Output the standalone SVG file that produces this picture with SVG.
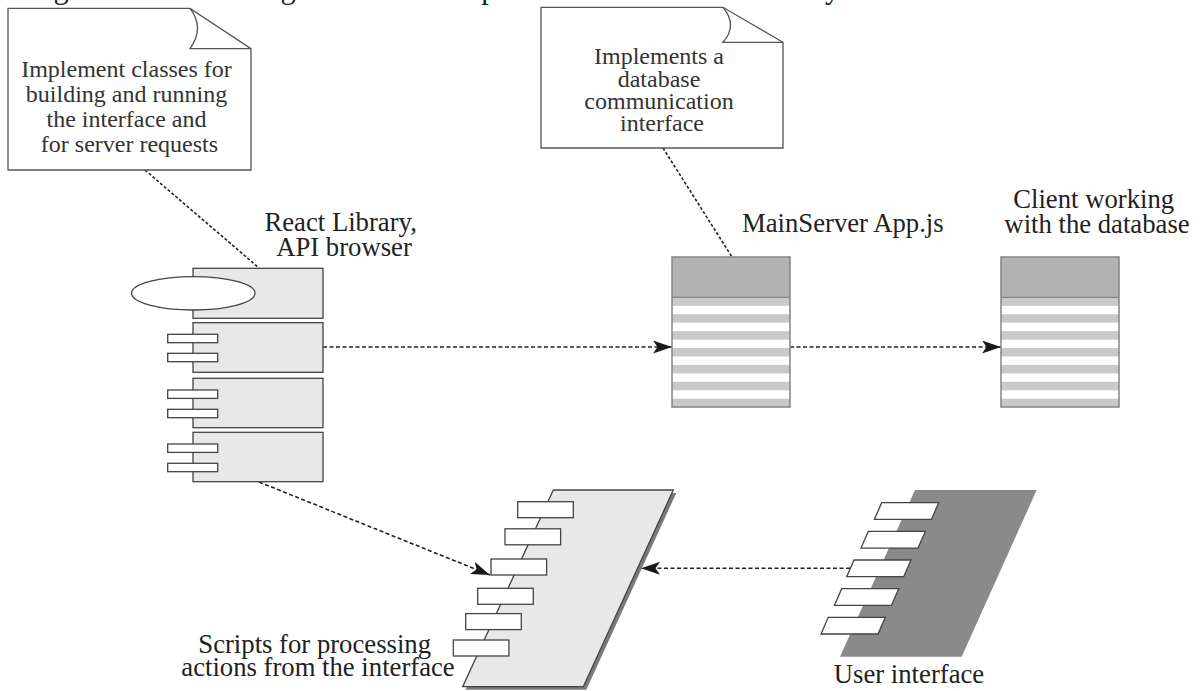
<svg xmlns="http://www.w3.org/2000/svg" xmlns:xlink="http://www.w3.org/1999/xlink" width="1200" height="691" viewBox="0 0 1200 691">
  <style>
    .txt { font-family: "Liberation Serif", "Times New Roman", serif; fill: #222; }
    .lbl { font-size: 26.7px; }
    .note-txt { font-size: 24px; fill: #333; text-anchor: middle; }
    .note { fill: #fff; stroke: #555; stroke-width: 1.3; }
    .curl { fill: none; stroke: #555; stroke-width: 1.3; }
    .leader { fill: none; stroke: #222; stroke-width: 1.6; stroke-dasharray: 3 2; }
    .flow { fill: none; stroke: #222; stroke-width: 1.6; stroke-dasharray: 4 2.5; marker-end: url(#arrow); }
    .part { fill: #e8e8e8; stroke: #444; stroke-width: 1.3; }
    .port { fill: #fff; stroke: #444; stroke-width: 1.3; }
    .db-head { fill: #b3b3b3; }
    .db-band { fill: #c9c9c9; }
    .db-frame { fill: none; stroke: #858585; stroke-width: 1.5; }
  </style>
  <defs>
    <marker id="arrow" viewBox="0 0 19 13" refX="19" refY="6.5" markerWidth="19" markerHeight="13" markerUnits="userSpaceOnUse" orient="auto">
      <path d="M0,0 L19,6.5 L0,13 L4.5,6.5 Z" fill="#1a1a1a"/>
    </marker>
    <path id="slat" d="M0,0 h57 l-7.3,16.7 h-57 z" class="port"/>
    <rect id="tab" width="50" height="8.4" class="port"/>
    <rect id="step" width="55.6" height="16" class="port"/>
    <!-- striped data-store body: header plus alternating bands -->
    <g id="store">
      <rect x="0" y="0" width="118" height="150" fill="#fff"/>
      <rect x="0" y="0" width="118" height="40.3" class="db-head"/>
      <rect x="0" y="40.3" width="118" height="8.5" class="db-band"/>
      <rect x="0" y="57.2" width="118" height="8.5" class="db-band"/>
      <rect x="0" y="74.1" width="118" height="8.5" class="db-band"/>
      <rect x="0" y="91.0" width="118" height="8.5" class="db-band"/>
      <rect x="0" y="107.9" width="118" height="8.5" class="db-band"/>
      <rect x="0" y="124.8" width="118" height="8.5" class="db-band"/>
      <rect x="0" y="141.7" width="118" height="8.3" class="db-band"/>
      <line x1="0" y1="40.3" x2="118" y2="40.3" stroke="#858585" stroke-width="1.3"/>
      <rect x="0" y="0" width="118" height="150" class="db-frame"/>
    </g>
  </defs>

  <!-- caption line running off the top edge -->
  <text class="txt" x="28" y="-2" font-size="30.5" fill="#111">Figure 3 shows a diagram of the components of the information system.</text>

  <!-- connectors -->
  <g id="connectors">
    <line class="leader" x1="145" y1="170" x2="259" y2="268"/>
    <line class="leader" x1="663" y1="148" x2="732" y2="257"/>
    <line class="flow" x1="323" y1="347" x2="672" y2="347"/>
    <line class="flow" x1="790" y1="347" x2="1001" y2="347"/>
    <line class="flow" x1="259" y1="482" x2="490" y2="575"/>
    <line class="flow" x1="850" y1="568.3" x2="641" y2="568.3"/>
  </g>

  <!-- note: interface classes -->
  <g id="note-interface">
    <path class="note" d="M8,8.4 L190,8.4 L251,48.6 L251,170 L8,170 Z"/>
    <path class="curl" d="M190,8.4 Q205,28 190,48.6 L251,48.6"/>
    <text class="txt note-txt">
      <tspan x="129.5" y="76.5">Implement classes for</tspan>
      <tspan x="129.5" y="101.5">building and running</tspan>
      <tspan x="129.5" y="126.5">the interface and</tspan>
      <tspan x="129.5" y="151.5">for server requests</tspan>
    </text>
  </g>

  <!-- note: database interface -->
  <g id="note-database">
    <path class="note" d="M541,7.3 L723,7.3 L783,42.3 L783,148 L541,148 Z"/>
    <path class="curl" d="M723,7.3 Q738,25 723,42.3 L783,42.3"/>
    <text class="txt note-txt">
      <tspan x="662" y="64">Implements a</tspan>
      <tspan x="662" y="86.5">database</tspan>
      <tspan x="662" y="109">communication</tspan>
      <tspan x="662" y="131">interface</tspan>
    </text>
  </g>

  <!-- React library component -->
  <g id="react-library">
    <rect class="part" x="193" y="268.3" width="130" height="50"/>
    <ellipse class="port" cx="193.3" cy="293.3" rx="61.7" ry="16.7"/>
    <rect class="part" x="193" y="322.7" width="130" height="49.6"/>
    <use href="#tab" x="167.7" y="334.3"/>
    <use href="#tab" x="167.7" y="353.3"/>
    <rect class="part" x="193" y="378.3" width="130" height="49.4"/>
    <use href="#tab" x="167.7" y="390"/>
    <use href="#tab" x="167.7" y="409.3"/>
    <rect class="part" x="193" y="432.3" width="130" height="49.4"/>
    <use href="#tab" x="167.7" y="444"/>
    <use href="#tab" x="167.7" y="463.3"/>
    <text class="txt lbl" text-anchor="middle">
      <tspan x="344" y="231">React Library,</tspan>
      <tspan x="344" y="256">API browser</tspan>
    </text>
  </g>

  <!-- main server -->
  <g id="main-server">
    <use href="#store" x="672" y="257"/>
    <text class="txt lbl" x="742" y="232">MainServer App.js</text>
  </g>

  <!-- database client -->
  <g id="db-client">
    <use href="#store" x="1001" y="257"/>
    <text class="txt lbl" text-anchor="middle">
      <tspan x="1097" y="208">Client working</tspan>
      <tspan x="1097" y="233">with the database</tspan>
    </text>
  </g>

  <!-- action scripts -->
  <g id="scripts">
    <polygon points="556.3,493 676.3,493 586.3,689.7 465.7,689.7" fill="#7a7a7a"/>
    <polygon points="553.3,490 673.3,490 583.3,686.7 462.7,686.7" class="part"/>
    <use href="#step" x="517.7" y="501.7"/>
    <use href="#step" x="505" y="528.8"/>
    <use href="#step" x="491" y="559"/>
    <use href="#step" x="477.7" y="588.3"/>
    <use href="#step" x="465.7" y="613.6"/>
    <use href="#step" x="453.3" y="640"/>
    <text class="txt lbl" text-anchor="middle">
      <tspan x="318" y="653">Scripts for processing</tspan>
      <tspan x="318" y="676">actions from the interface</tspan>
    </text>
  </g>

  <!-- user interface -->
  <g id="user-interface">
    <polygon points="915,490 1036.7,490 961.7,656.7 840,656.7" fill="#8a8a8a"/>
    <use href="#slat" x="881.7" y="502.7"/>
    <use href="#slat" x="868.3" y="531.4"/>
    <use href="#slat" x="854" y="560"/>
    <use href="#slat" x="841.7" y="588.7"/>
    <use href="#slat" x="828.3" y="617.3"/>
    <text class="txt lbl" x="909" y="683" text-anchor="middle">User interface</text>
  </g>
</svg>
